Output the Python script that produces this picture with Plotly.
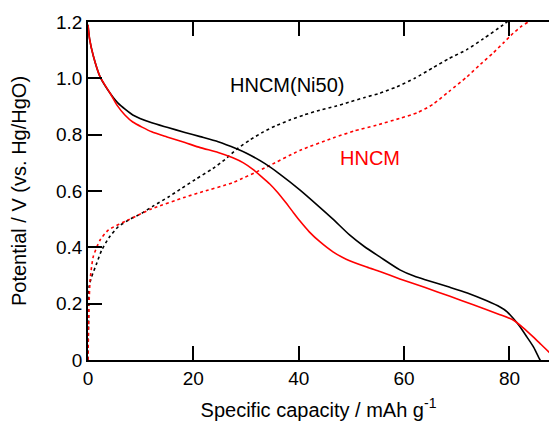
import plotly.graph_objects as go

# Discharge curves (solid) and charge curves (dotted): capacity in mAh/g, potential in V
ni50_dis_cap = [0, 0.3, 1, 2.3, 4.2, 5.7, 8.5, 12.1, 15, 18.4, 21.3, 24.7, 28.2, 30, 33.6,
                36.4, 40.2, 44, 46.5, 49.7, 52.5, 55.4, 59.2, 62, 64, 68.7, 72, 75.7, 78.2,
                79.5, 80.7, 82, 83.3, 84.6, 85.8, 86.5]
ni50_dis_v = [1.19, 1.14, 1.08, 1.005, 0.947, 0.912, 0.87, 0.842, 0.826, 0.808, 0.793,
              0.775, 0.75, 0.735, 0.697, 0.66, 0.604, 0.542, 0.5, 0.443, 0.402, 0.366,
              0.32, 0.297, 0.285, 0.258, 0.238, 0.21, 0.188, 0.172, 0.148, 0.118, 0.082,
              0.045, 0.0, -0.02]

hncm_dis_cap = [0, 0.3, 1, 2.3, 4.2, 5.5, 7, 8.5, 12.1, 15, 18.4, 21.3, 24.7, 27.5, 29.5,
                31.3, 33, 34.5, 36, 37.5, 39, 40.2, 42, 44, 46.5, 49, 52.9, 55.4, 59.2,
                64, 68.7, 73, 78.2, 80.7, 82.5, 84.5, 86, 87.5, 88.5]
hncm_dis_v = [1.19, 1.14, 1.08, 1.005, 0.947, 0.905, 0.87, 0.845, 0.81, 0.792, 0.772, 0.754,
              0.737, 0.718, 0.7, 0.677, 0.65, 0.625, 0.595, 0.56, 0.523, 0.494, 0.455,
              0.42, 0.384, 0.358, 0.33, 0.314, 0.288, 0.257, 0.226, 0.197, 0.161, 0.142,
              0.116, 0.082, 0.055, 0.028, 0.01]

ni50_chg_cap = [0, 0.1, 0.2, 0.7, 1.65, 2.6, 4, 5.75, 8, 10.2, 12.5, 15.2, 17.5, 20.3,
                23.7, 26, 28.2, 30.8, 33.3, 35.8, 38.3, 41, 44, 46.8, 49.5, 52.5, 55.4,
                58.6, 62, 65.5, 68.5, 71.9, 75, 78.8, 80.2]
ni50_chg_v = [0, 0.15, 0.26, 0.296, 0.343, 0.39, 0.435, 0.473, 0.5, 0.521, 0.548, 0.578,
              0.606, 0.64, 0.68, 0.712, 0.748, 0.782, 0.81, 0.833, 0.852, 0.87, 0.887,
              0.9, 0.915, 0.932, 0.947, 0.97, 1.0, 1.038, 1.07, 1.102, 1.14, 1.19, 1.21]

hncm_chg_cap = [0, 0.1, 0.2, 0.4, 1.0, 2.3, 3.9, 7.6, 12.1, 18.4, 21.3, 27.5, 34, 40.2,
                46.5, 50.5, 54.8, 59.2, 62.5, 65.5, 68.5, 71.9, 74.5, 76.9, 78.8, 80.7,
                82.3, 83.5, 84.5]
hncm_chg_v = [0, 0.12, 0.2, 0.284, 0.367, 0.426, 0.462, 0.497, 0.537, 0.578, 0.595, 0.63,
              0.686, 0.744, 0.788, 0.813, 0.834, 0.858, 0.878, 0.908, 0.953, 1.005, 1.05,
              1.09, 1.125, 1.16, 1.185, 1.2, 1.22]

x_ticks = [0, 20, 40, 60, 80]
y_ticks = [0, 0.2, 0.4, 0.6, 0.8, 1.0, 1.2]
y_tick_text = ["0", "0.2", "0.4", "0.6", "0.8", "1.0", "1.2"]

FONT = "Arial, Liberation Sans, sans-serif"
BLACK = "#000000"
RED = "#ff0000"

fig = go.Figure()

def curve(x, y, color, dash):
    fig.add_trace(go.Scatter(
        x=x, y=y, mode="lines",
        line=dict(color=color, width=1.6, dash=dash, shape="spline", smoothing=0.6),
        showlegend=False, hoverinfo="skip"))

curve(ni50_chg_cap, ni50_chg_v, BLACK, "dot")
curve(hncm_chg_cap, hncm_chg_v, RED, "dot")
curve(ni50_dis_cap, ni50_dis_v, BLACK, "solid")
curve(hncm_dis_cap, hncm_dis_v, RED, "solid")

fig.add_annotation(x=37.8, y=0.976, text="HNCM(Ni50)", showarrow=False,
                   font=dict(family=FONT, size=20, color=BLACK))
fig.add_annotation(x=53.5, y=0.717, text="HNCM", showarrow=False,
                   font=dict(family=FONT, size=20, color=RED))

fig.update_layout(
    width=549, height=423,
    margin=dict(l=88, r=0, t=22, b=63),
    paper_bgcolor="white", plot_bgcolor="white",
    font=dict(family=FONT, size=19, color=BLACK),
    xaxis=dict(
        range=[0, 87.5], tickvals=x_ticks, ticktext=[str(v) for v in x_ticks],
        ticks="inside", ticklen=14, tickwidth=1.5, tickcolor=BLACK,
        showline=True, linecolor=BLACK, linewidth=1.5, mirror="ticks",
        showgrid=False, zeroline=False,
        title=dict(text="Specific capacity / mAh g<sup>-1</sup>", font=dict(size=20),
                   standoff=15),
    ),
    yaxis=dict(
        range=[0, 1.2], tickvals=y_ticks, ticktext=y_tick_text,
        ticks="inside", ticklen=14, tickwidth=1.5, tickcolor=BLACK,
        showline=True, linecolor=BLACK, linewidth=1.5,
        showgrid=False, zeroline=False,
        title=dict(text="Potential / V (vs. Hg/HgO)", font=dict(size=20), standoff=24),
    ),
    yaxis2=dict(
        range=[0, 1.2], overlaying="y", side="right", tickvals=y_ticks,
        ticks="inside", ticklen=9, tickwidth=1.5, tickcolor=BLACK,
        showticklabels=False, showline=False, showgrid=False, zeroline=False,
    ),
)

fig.write_html("out.html")
